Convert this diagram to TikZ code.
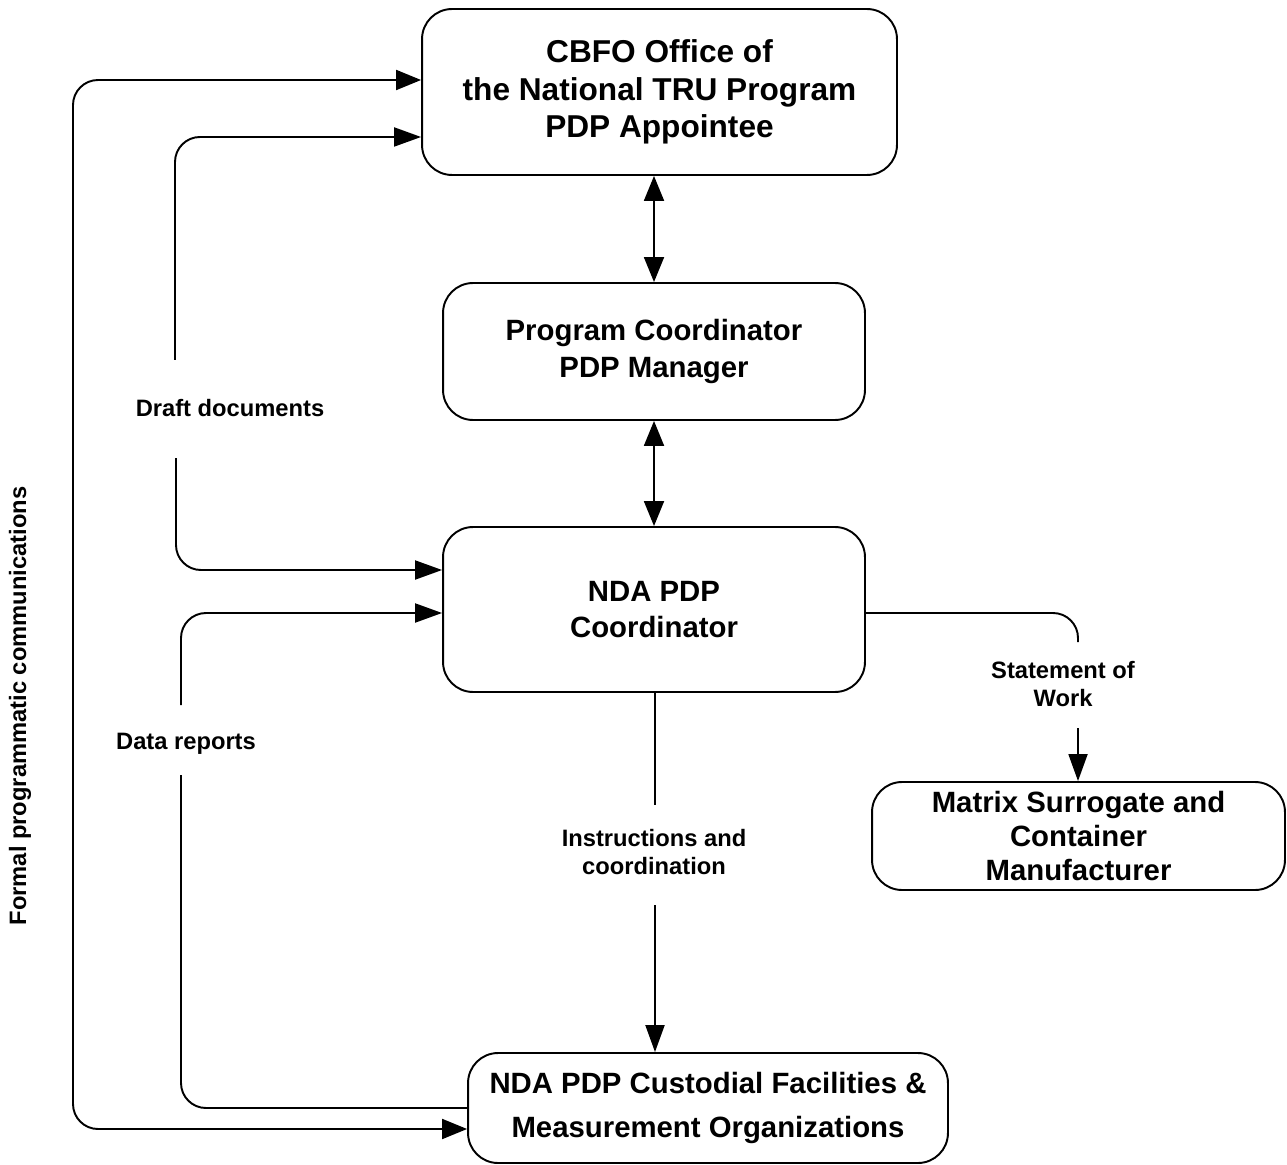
\documentclass[tikz,border=0pt]{standalone}
\usepackage{fontspec}
\setmainfont{Liberation Sans}
\usetikzlibrary{arrows.meta}
\begin{document}
\begin{tikzpicture}[x=0.02cm,y=-0.02cm]
\tikzstyle{box}=[draw, line width=1.1pt, rounded corners=0.6cm, align=center, inner sep=0pt, font=\fontsize{16.7}{21}\selectfont\bfseries]
\tikzstyle{lbl}=[align=center, inner sep=0pt, font=\fontsize{13.5}{16}\selectfont\bfseries]
\tikzstyle{conn}=[line width=1.1pt, rounded corners=0.5cm]
\tikzstyle{tip}=[-{Triangle[length=0.54cm,width=0.38cm]}]
\tikzstyle{tips}=[{Triangle[length=0.5cm,width=0.4cm]}-{Triangle[length=0.5cm,width=0.4cm]}]
\useasboundingbox (0,0) rectangle (1287,1165);
% boxes
\node[box, minimum width=9.5cm, minimum height=3.32cm, font=\fontsize{18}{21.5}\selectfont\bfseries] (cbfo) at (659.5,92) {CBFO Office of\\the National TRU Program\\PDP Appointee};
\node[box, minimum width=8.44cm, minimum height=2.74cm] (pc) at (654,351.5) {Program Coordinator\\PDP Manager};
\node[box, minimum width=8.44cm, minimum height=3.3cm] (nda) at (654,609.5) {NDA PDP\\Coordinator};
\node[box, minimum width=8.26cm, minimum height=2.16cm, font=\fontsize{16.7}{19.5}\selectfont\bfseries] (matrix) at (1078.5,836) {Matrix Surrogate and\\Container\\Manufacturer};
\node[box, minimum width=9.6cm, minimum height=2.2cm, font=\fontsize{16.7}{25}\selectfont\bfseries] (cust) at (708,1108) {NDA PDP Custodial Facilities \&\\Measurement Organizations};
% labels
\node[lbl] (draft) at (230,408) {Draft documents};
\node[lbl] (data) at (186,744) {Data reports};
\node[lbl] (instr) at (654,852) {Instructions and\\coordination};
\node[lbl] (sow) at (1063,684) {Statement of\\Work};
\node[lbl, rotate=90] (formal) at (20,706) {Formal programmatic communications};
% free ends at the labels
\coordinate (d1) at (175,360);
\coordinate (d2) at (176,458);
\coordinate (r1) at (181,705);
\coordinate (r2) at (181,775);
\coordinate (i1) at (655,805);
\coordinate (i2) at (655,905);
\coordinate (s1) at (1078,642);
\coordinate (s2) at (1078,728);
\coordinate (f) at (73,600);
% connectors
\draw[line width=1.1pt, tips] (pc.north |- cbfo.south) -- (pc.north);
\draw[line width=1.1pt, tips] (pc.south) -- (nda.north);
\draw[conn, tip] (d1) |- ([yshift=-0.9cm]cbfo.west);
\draw[conn, tip] (d2) |- ([yshift=0.79cm]nda.west);
\draw[conn] (cust.west) -| (r2);
\draw[conn, tip] (r1) |- ([yshift=-0.07cm]nda.west);
\draw[line width=1.1pt] (nda.south -| i1) -- (i1);
\draw[line width=1.1pt, tip] (i2) -- (i2 |- cust.north);
\draw[conn] ([yshift=-0.07cm]nda.east) -| (s1);
\draw[line width=1.1pt, tip] (s2) -- (s2 |- matrix.north);
\draw[conn, tips] ([yshift=0.24cm]cbfo.west) -| (f) |- ([yshift=-0.42cm]cust.west);
\end{tikzpicture}
\end{document}
